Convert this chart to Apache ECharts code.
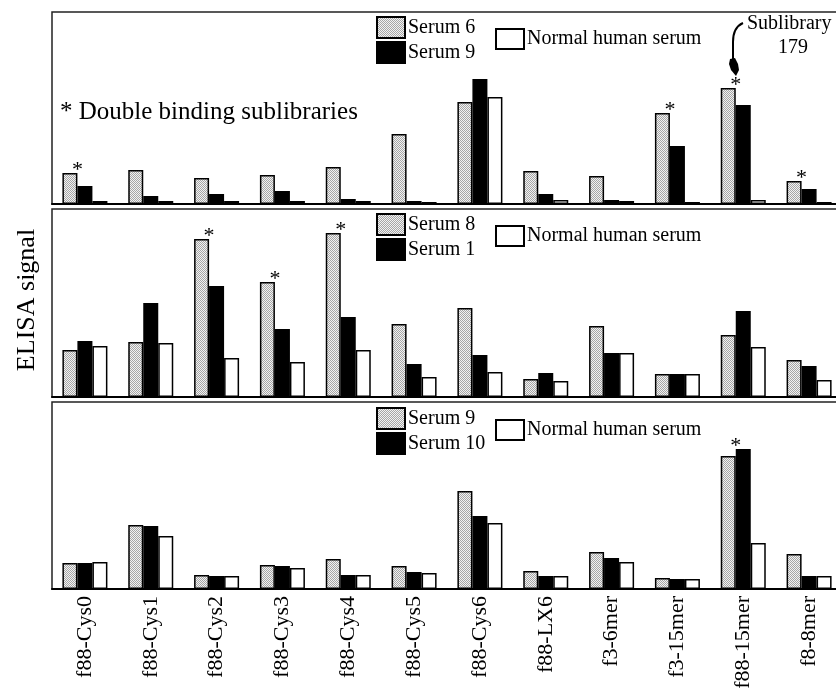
<!DOCTYPE html>
<html>
<head>
<meta charset="utf-8">
<script src="https://cdn.jsdelivr.net/npm/echarts@6/dist/echarts.min.js"></script>
<style>
  html, body { margin: 0; padding: 0; background: #fff; }
  #chart { width: 836px; height: 689px; }
</style>
</head>
<body>
<div id="chart"></div>
<script>
  // phage sublibraries
  var categories = ['f88-Cys0', 'f88-Cys1', 'f88-Cys2', 'f88-Cys3', 'f88-Cys4', 'f88-Cys5',
    'f88-Cys6', 'f88-LX6', 'f3-6mer', 'f3-15mer', 'f88-15mer', 'f8-8mer'];

  // panel 1 : Serum 6 / Serum 9 / normal
  var names1 = ['Serum 6', 'Serum 9', 'Normal human serum'];
  var gray1 = [31, 34, 26, 29, 37, 70, 102, 33, 28, 91, 116, 23];
  var black1 = [18, 8, 10, 13, 5, 3, 125, 10, 4, 58, 99, 15];
  var white1 = [3, 3, 3, 3, 3, 2, 107, 4, 3, 2, 4, 2];
  var stars1 = [[0, 0], [0, 9], [0, 10], [0, 11]];

  // panel 2 : Serum 8 / Serum 1 / normal
  var names2 = ['Serum 8', 'Serum 1', 'Normal human serum'];
  var gray2 = [47, 55, 158, 115, 164, 73, 89, 18, 71, 23, 62, 37];
  var black2 = [56, 94, 111, 68, 80, 33, 42, 24, 44, 23, 86, 31];
  var white2 = [51, 54, 39, 35, 47, 20, 25, 16, 44, 23, 50, 17];
  var stars2 = [[0, 2], [0, 3], [0, 4]];

  // panel 3 : Serum 9 / Serum 10 / normal
  var names3 = ['Serum 9', 'Serum 10', 'Normal human serum'];
  var gray3 = [26, 64, 14, 24, 30, 23, 98, 18, 37, 11, 133, 35];
  var black3 = [26, 63, 13, 23, 14, 17, 73, 13, 31, 10, 140, 13];
  var white3 = [27, 53, 13, 21, 14, 16, 66, 13, 27, 10, 46, 13];
  var stars3 = [[1, 10]];

  var panelMax = [192, 188, 187];

  var serif = 'Liberation Serif, Times New Roman, serif';

  // stippled gray fill (checker of light/dark dots)
  var dots = document.createElement('canvas');
  dots.width = 2;
  dots.height = 2;
  var dc = dots.getContext('2d');
  dc.fillStyle = '#f2f2f2';
  dc.fillRect(0, 0, 2, 2);
  dc.fillStyle = '#a6a6a6';
  dc.fillRect(0, 0, 1, 1);
  dc.fillRect(1, 1, 1, 1);

  var fills = [
    { color: { image: dots, repeat: 'repeat' }, borderColor: '#000', borderWidth: 1.5 },
    { color: '#000', borderColor: '#000', borderWidth: 1.5 },
    { color: '#fff', borderColor: '#000', borderWidth: 1.5 }
  ];

  var grids = [
    { left: 52, right: -6, top: 12, height: 192 },
    { left: 52, right: -6, top: 209, height: 188 },
    { left: 52, right: -6, top: 402, height: 187 }
  ];

  var xAxes = [], yAxes = [], series = [], legends = [];

  function buildPanel(p, names, cols, stars, legTop) {
    xAxes.push({
      type: 'category', gridIndex: p, data: categories,
      axisTick: { show: false },
      axisLine: { lineStyle: { color: '#000', width: 2 } },
      axisLabel: p === 2 ? {
        rotate: 90, margin: 7, interval: 0, color: '#000',
        fontFamily: serif, fontSize: 22
      } : { show: false }
    });
    yAxes.push({ type: 'value', gridIndex: p, min: 0, max: panelMax[p], show: false });

    cols.forEach(function (vals, s) {
      var data = vals.map(function (v, i) {
        var starred = stars.some(function (st) { return st[0] === s && st[1] === i; });
        if (!starred) return v;
        return {
          value: v,
          label: {
            show: true, position: 'top', formatter: '*', distance: 0,
            offset: [s === 0 ? 7.5 : -7.5, 8],
            color: '#000', fontFamily: serif, fontSize: 22
          }
        };
      });
      series.push({
        type: 'bar',
        name: 'p' + p + '|' + names[s],
        xAxisIndex: p, yAxisIndex: p,
        barWidth: 15, barGap: '0%',
        itemStyle: fills[s],
        data: data,
        animation: false
      });
    });

    var fmt = function (n) { return n.split('|')[1]; };
    legends.push({
      orient: 'vertical', left: 376, top: legTop, padding: 0,
      itemWidth: 28, itemHeight: 21, itemGap: 2, icon: 'rect',
      selectedMode: false, formatter: fmt,
      textStyle: { fontFamily: serif, fontSize: 20, color: '#000', padding: [0, 0, 0, -2] },
      data: ['p' + p + '|' + names[0], 'p' + p + '|' + names[1]]
    });
    legends.push({
      left: 495, top: legTop + 12, padding: 0,
      itemWidth: 28, itemHeight: 20, icon: 'rect',
      selectedMode: false, formatter: fmt,
      textStyle: { fontFamily: serif, fontSize: 20, color: '#000', padding: [0, 0, 0, -2] },
      data: ['p' + p + '|' + names[2]]
    });
  }

  buildPanel(0, names1, [gray1, black1, white1], stars1, 16);
  buildPanel(1, names2, [gray2, black2, white2], stars2, 213);
  buildPanel(2, names3, [gray3, black3, white3], stars3, 407);

  var chart = echarts.init(document.getElementById('chart'));
  chart.setOption({
    backgroundColor: '#fff',
    animation: false,
    grid: grids.map(function (g) {
      return Object.assign({
        show: true, borderColor: '#222', borderWidth: 1.5,
        outerBoundsMode: 'none'
      }, g);
    }),
    xAxis: xAxes,
    yAxis: yAxes,
    legend: legends,
    series: series,
    graphic: [
      {
        type: 'text', x: 60, y: 112,
        style: { text: '* Double binding sublibraries', font: '25px ' + serif, fill: '#000', verticalAlign: 'middle' }
      },
      {
        type: 'text', x: 27, y: 300, rotation: Math.PI / 2,
        style: { text: 'ELISA signal', font: '26px ' + serif, fill: '#000', align: 'center', verticalAlign: 'middle' }
      },
      {
        type: 'text', x: 747, y: 24,
        style: { text: 'Sublibrary', font: '20px ' + serif, fill: '#000', verticalAlign: 'middle' }
      },
      {
        type: 'text', x: 793, y: 48,
        style: { text: '179', font: '20px ' + serif, fill: '#000', align: 'center', verticalAlign: 'middle' }
      },
      {
        type: 'bezierCurve',
        shape: { x1: 743, y1: 23, cpx1: 736, cpy1: 26, cpx2: 733, cpy2: 32, x2: 733, y2: 42 },
        style: { stroke: '#000', lineWidth: 2, fill: null }
      },
      {
        type: 'line',
        shape: { x1: 733, y1: 42, x2: 733, y2: 60 },
        style: { stroke: '#000', lineWidth: 2 }
      },
      {
        type: 'polygon',
        shape: { points: [[730, 59], [735, 58], [738, 64], [739, 70], [736, 76], [731, 70], [729, 64]] },
        style: { fill: '#000' }
      }
    ]
  });
</script>
</body>
</html>
